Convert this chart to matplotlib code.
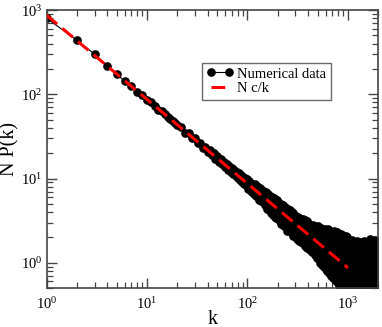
import numpy as np
import matplotlib
matplotlib.use('Agg')
import matplotlib.pyplot as plt

plt.rcParams['font.family'] = ['Liberation Serif', 'DejaVu Serif']
plt.rcParams['mathtext.fontset'] = 'custom'
plt.rcParams['mathtext.rm'] = 'Liberation Serif'
plt.rcParams['mathtext.it'] = 'Liberation Serif:italic'

# numerical data
k_low = [1, 2, 3, 4, 5, 6, 7, 8, 9, 10, 11, 12, 13, 14, 15, 16, 17, 18, 19, 20]
np_low = [800, 440, 300, 220, 173, 143, 125, 108, 97, 86, 80, 72, 66, 63, 58, 54, 51, 48, 46, 43]

k_mid = list(range(22, 100, 2))
np_mid = [41, 35, 34.5, 30, 30.2, 26.4, 26.5, 23.3, 23.8, 20.8, 21.6, 19.0, 19.9, 17.2, 18.3,
          15.9, 17.0, 14.8, 15.9, 13.6, 14.9, 12.8, 14.0, 12.0, 13.3, 11.2, 12.7, 10.6, 12.0,
          10.1, 11.5, 9.6, 11.0, 9.2, 10.5, 8.7, 10.1, 8.3, 9.8]

k_a = list(range(100, 200, 2))
np_a = [8.9, 7.6, 9.4, 8.0, 7.2, 8.7, 7.0, 8.3, 6.5, 8.6,
        7.4, 6.2, 8.1, 6.9, 7.6, 5.6, 7.7, 6.4, 5.4, 7.3,
        6.0, 5.2, 7.2, 5.7, 6.6, 4.8, 6.9, 5.4, 6.2, 4.4,
        6.5, 5.1, 4.2, 6.2, 5.5, 3.9, 5.8, 4.6, 6.1, 3.7,
        5.3, 4.4, 5.9, 3.5, 4.9, 5.7, 3.4, 4.5, 5.5, 3.9]

k_b = list(range(203, 400, 3))
np_b = [5.3, 3.2, 4.4, 3.7, 5.0, 2.9, 4.1, 3.4, 4.8, 2.7,
        3.9, 4.6, 2.9, 3.6, 4.4, 2.4, 3.3, 4.3, 2.6, 3.8,
        2.9, 4.2, 2.3, 3.5, 4.0, 2.5, 3.2, 3.9, 2.1, 2.9,
        3.7, 2.3, 3.3, 2.0, 3.6, 2.6, 3.1, 1.9, 3.5, 2.4,
        2.9, 1.8, 3.4, 2.2, 2.8, 3.3, 1.75, 2.5, 3.1, 2.0,
        2.7, 3.3, 1.7, 2.3, 3.0, 1.85, 2.6, 3.2, 1.6, 2.2,
        2.9, 1.9, 2.5, 3.1, 1.5, 2.2]

k_c = list(range(405, 1001, 5))
np_c = [2.9, 1.6, 2.3, 1.4, 2.7, 1.9, 2.4, 1.35, 2.1, 2.8,
        1.5, 2.5, 1.8, 1.25, 2.7, 2.0, 1.4, 2.4, 1.15, 2.1,
        2.7, 1.6, 1.1, 2.3, 1.85, 1.0, 2.6, 1.4, 2.0, 0.95,
        2.5, 1.7, 1.2, 2.2, 0.9, 1.5, 2.55, 1.05, 1.9, 0.85,
        2.4, 1.3, 2.0, 0.8, 1.6, 2.5, 1.1, 1.75, 0.75, 2.2,
        1.4, 0.9, 2.4, 1.2, 1.9, 0.7, 1.55, 2.3, 1.0, 1.7,
        0.65, 2.1, 1.3, 0.85, 2.4, 1.5, 0.7, 1.9, 1.1, 2.3,
        0.6, 1.35, 2.0, 0.8, 1.6, 2.3, 0.95, 1.2, 0.58, 1.85,
        2.2, 1.0, 0.55, 1.45, 2.1, 0.75, 1.7, 1.15, 0.55, 2.2,
        1.3, 0.7, 1.9, 0.9, 1.5, 2.15, 0.52, 1.1, 1.75, 0.65,
        2.1, 1.25, 0.8, 1.6, 0.5, 1.95, 1.0, 1.4, 0.6, 2.05,
        1.2, 0.75, 1.7, 0.5, 1.45, 2.0, 0.9, 1.3, 0.55, 1.8]

k_d = list(range(1008, 2001, 8))
np_d = [1.75, 0.6, 1.3, 0.85, 1.65, 0.5, 1.1, 1.6, 0.7, 1.4,
        0.55, 1.85, 0.95, 1.25, 0.5, 1.55, 0.8, 1.5, 0.62, 1.65,
        1.05, 0.5, 1.35, 1.7, 0.75, 1.15, 0.55, 1.6, 0.9, 1.8,
        0.5, 1.3, 0.68, 1.55, 1.0, 0.52, 1.45, 1.75, 0.8, 1.2,
        0.58, 1.65, 0.95, 1.45, 0.5, 1.1, 1.5, 0.72, 1.7, 0.6,
        1.35, 0.85, 1.6, 0.5, 1.25, 1.8, 0.65, 1.05, 1.55, 0.5,
        1.75, 0.78, 1.4, 0.55, 1.15, 1.55, 0.9, 0.5, 1.6, 1.3,
        0.62, 1.65, 1.0, 0.5, 1.45, 0.8, 1.7, 1.2, 0.56, 1.9,
        0.9, 1.35, 0.5, 1.5, 0.7, 1.1, 1.8, 0.6, 1.5, 0.95,
        0.5, 1.6, 1.25, 0.68, 1.75, 0.85, 1.4, 0.52, 1.6, 1.05,
        0.75, 1.65, 0.5, 1.3, 1.7, 0.6, 1.15, 1.85, 0.82, 1.45,
        0.5, 1.55, 0.95, 1.6, 0.65, 1.2, 0.5, 1.65, 1.0, 1.75,
        0.7, 1.35, 0.55, 1.6, 1.1]

k = np.array(k_low + k_mid + k_a + k_b + k_c + k_d, dtype=float)
NPk = np.array(np_low + np_mid + np_a + np_b + np_c + np_d, dtype=float)

# fit N c/k
Nc = 870.0
k_fit = np.array([1.0, 1000.0])

fig = plt.figure(figsize=(3.82, 3.27), dpi=100)
ax = fig.add_axes([0.122, 0.119, 0.868, 0.850])

ax.plot(k, NPk, '-o', color='black', lw=0.8, ms=5.2, label='Numerical data', zorder=2)
ax.plot(k_fit, Nc / k_fit, '--', color='red', lw=2.2, dashes=(4.5, 2.2), label='N c/k', zorder=3)

ax.set_xscale('log')
ax.set_yscale('log')
ax.set_xlim(1, 2000)
ax.set_ylim(0.5, 1000)

for s in ax.spines.values():
    s.set_color('#444444')
    s.set_linewidth(1.2)
ax.tick_params(which='both', direction='in', top=True, right=True, color='#444444', labelsize=10.5)
ax.tick_params(which='major', length=7, width=1.0)
ax.tick_params(which='minor', length=4, width=0.9)
ax.tick_params(axis='x', pad=6)
ax.tick_params(axis='y', pad=3)

ax.set_xlabel('k', fontsize=14.5, labelpad=-2)
ax.set_ylabel('N P(k)', fontsize=14.5, labelpad=1)

leg = ax.legend(loc='upper left', bbox_to_anchor=(0.47, 0.81), fontsize=10.5, numpoints=2,
                frameon=True, fancybox=False, borderpad=0.3, handlelength=1.8,
                handletextpad=0.3, labelspacing=0.1, borderaxespad=0)
leg.get_frame().set_edgecolor('#444444')
leg.get_frame().set_linewidth(1.0)

fig.savefig('out.png', dpi=100)
